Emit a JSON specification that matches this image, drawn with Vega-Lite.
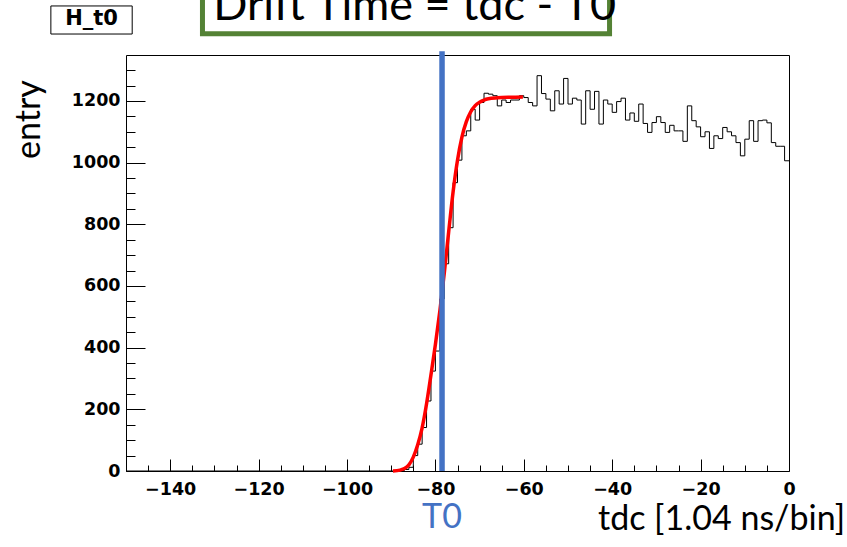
{
  "$schema": "https://vega.github.io/schema/vega-lite/v6.json",
  "width": 663,
  "height": 416,
  "autosize": {"type": "none"},
  "padding": {"left": 126, "top": 55, "right": 58, "bottom": 76},
  "background": "white",
  "config": {
    "view": {"stroke": "#000000", "strokeWidth": 1},
    "axis": {"grid": false, "domain": false, "tickColor": "#000000", "tickWidth": 1, "labelColor": "#000000", "titleColor": "#000000"}
  },
  "datasets": {
    "hist": [
      {"lo": -150, "n": 0}, {"lo": -88, "n": 2}, {"lo": -87, "n": 5}, {"lo": -86, "n": 12},
      {"lo": -85, "n": 50}, {"lo": -84, "n": 87}, {"lo": -83, "n": 141}, {"lo": -82, "n": 227},
      {"lo": -81, "n": 324}, {"lo": -80, "n": 389}, {"lo": -79, "n": 558}, {"lo": -78, "n": 672},
      {"lo": -77, "n": 789}, {"lo": -76, "n": 935}, {"lo": -75, "n": 1008}, {"lo": -74, "n": 1087},
      {"lo": -73, "n": 1103}, {"lo": -72, "n": 1173}, {"lo": -71, "n": 1138}, {"lo": -70, "n": 1195},
      {"lo": -69, "n": 1225}, {"lo": -68, "n": 1222}, {"lo": -67, "n": 1217}, {"lo": -66, "n": 1184},
      {"lo": -65, "n": 1203}, {"lo": -64, "n": 1195}, {"lo": -63, "n": 1203}, {"lo": -62, "n": 1203},
      {"lo": -61, "n": 1217}, {"lo": -60, "n": 1211}, {"lo": -59, "n": 1195}, {"lo": -58, "n": 1184},
      {"lo": -57, "n": 1282}, {"lo": -56, "n": 1224}, {"lo": -55, "n": 1206}, {"lo": -54, "n": 1168},
      {"lo": -53, "n": 1233}, {"lo": -52, "n": 1190}, {"lo": -51, "n": 1273}, {"lo": -50, "n": 1190},
      {"lo": -49, "n": 1209}, {"lo": -48, "n": 1203}, {"lo": -47, "n": 1125}, {"lo": -46, "n": 1233},
      {"lo": -45, "n": 1173}, {"lo": -44, "n": 1231}, {"lo": -43, "n": 1125}, {"lo": -42, "n": 1203},
      {"lo": -41, "n": 1190}, {"lo": -40, "n": 1163}, {"lo": -39, "n": 1198}, {"lo": -38, "n": 1209},
      {"lo": -37, "n": 1138}, {"lo": -36, "n": 1161}, {"lo": -35, "n": 1134}, {"lo": -34, "n": 1190},
      {"lo": -33, "n": 1127}, {"lo": -32, "n": 1098}, {"lo": -31, "n": 1130}, {"lo": -30, "n": 1149},
      {"lo": -29, "n": 1130}, {"lo": -28, "n": 1098}, {"lo": -27, "n": 1121}, {"lo": -26, "n": 1103},
      {"lo": -25, "n": 1103}, {"lo": -24, "n": 1069}, {"lo": -23, "n": 1184}, {"lo": -22, "n": 1136},
      {"lo": -21, "n": 1116}, {"lo": -20, "n": 1084}, {"lo": -19, "n": 1100}, {"lo": -18, "n": 1046},
      {"lo": -17, "n": 1087}, {"lo": -16, "n": 1078}, {"lo": -15, "n": 1114}, {"lo": -14, "n": 1100},
      {"lo": -13, "n": 1087}, {"lo": -12, "n": 1065}, {"lo": -11, "n": 1022}, {"lo": -10, "n": 1076},
      {"lo": -9, "n": 1136}, {"lo": -8, "n": 1069}, {"lo": -7, "n": 1136}, {"lo": -6, "n": 1138},
      {"lo": -5, "n": 1129}, {"lo": -4, "n": 1065}, {"lo": -3, "n": 1053}, {"lo": -2, "n": 1053},
      {"lo": -1, "n": 1006}, {"lo": 0, "n": 1006}
    ],
    "fit": [
      {"x": -89.6, "y": 0}, {"x": -88, "y": 3}, {"x": -87, "y": 8}, {"x": -86, "y": 20},
      {"x": -85, "y": 45}, {"x": -84, "y": 85}, {"x": -83, "y": 140}, {"x": -82, "y": 218},
      {"x": -81, "y": 312}, {"x": -80, "y": 410}, {"x": -79, "y": 518}, {"x": -78, "y": 640},
      {"x": -77, "y": 775}, {"x": -76, "y": 905}, {"x": -75, "y": 1008}, {"x": -74, "y": 1083},
      {"x": -73, "y": 1133}, {"x": -72, "y": 1165}, {"x": -71, "y": 1185}, {"x": -70, "y": 1196},
      {"x": -69, "y": 1203}, {"x": -68, "y": 1207}, {"x": -66, "y": 1210}, {"x": -63, "y": 1212},
      {"x": -60.2, "y": 1213}
    ]
  },
  "layer": [
    {
      "data": {"name": "hist"},
      "mark": {"type": "line", "interpolate": "step-after", "stroke": "#000000", "strokeWidth": 1},
      "encoding": {
        "x": {
          "field": "lo", "type": "quantitative",
          "scale": {"domain": [-150, 0], "nice": false, "zero": false},
          "axis": {
            "orient": "bottom", "values": [-140, -120, -100, -80, -60, -40, -20, 0],
            "tickSize": -12, "labelPadding": 21, "labelFlush": false, "format": "d",
            "labelFont": "DejaVu Sans", "labelFontWeight": "bold", "labelFontSize": 17.5,
            "title": "tdc [1.04 ns/bin]", "titleFont": "Lato", "titleFontSize": 34, "titleFontWeight": "normal",
            "titleX": 595, "titleY": 48, "titleAlign": "center", "titleBaseline": "middle", "titleAnchor": null
          }
        },
        "y": {
          "field": "n", "type": "quantitative",
          "scale": {"domain": [0, 1349], "nice": false, "zero": false},
          "axis": {
            "orient": "left", "values": [0, 200, 400, 600, 800, 1000, 1200],
            "tickSize": -19, "labelPadding": 25, "labelFlush": false, "format": "d",
            "labelFont": "DejaVu Sans", "labelFontWeight": "bold", "labelFontSize": 17.5,
            "title": "entry", "titleFont": "Lato", "titleFontSize": 34, "titleFontWeight": "normal",
            "titleAngle": -90, "titleX": -97, "titleY": 64, "titleAlign": "center", "titleBaseline": "middle", "titleAnchor": null
          }
        }
      }
    },
    {
      "data": {"name": "fit"},
      "mark": {"type": "line", "interpolate": "monotone", "stroke": "#ff0000", "strokeWidth": 3.5},
      "encoding": {
        "x": {
          "field": "x", "type": "quantitative",
          "axis": {
            "orient": "bottom", "labels": false, "title": null, "tickSize": -6,
            "values": [-145, -135, -130, -125, -115, -110, -105, -95, -90, -85, -75, -70, -65, -55, -50, -45, -35, -30, -25, -15, -10, -5]
          }
        },
        "y": {
          "field": "y", "type": "quantitative",
          "axis": {
            "orient": "left", "labels": false, "title": null, "tickSize": -9,
            "values": [50, 100, 150, 250, 300, 350, 450, 500, 550, 650, 700, 750, 850, 900, 950, 1050, 1100, 1150, 1250, 1300]
          }
        }
      }
    },
    {
      "data": {"values": [{"name": "T0", "t0": -78.5}]},
      "mark": {"type": "rule", "stroke": "#4472C4", "strokeWidth": 5.5},
      "encoding": {
        "x": {"field": "t0", "type": "quantitative", "axis": null},
        "y": {"datum": 0, "axis": null},
        "y2": {"datum": 1361}
      }
    },
    {
      "data": {"values": [{"name": "T0", "t0": -78.5}]},
      "mark": {"type": "text", "font": "Lato", "fontSize": 34, "color": "#4472C4", "align": "center", "baseline": "middle"},
      "encoding": {
        "x": {"field": "t0", "type": "quantitative", "axis": null},
        "y": {"datum": -154, "axis": null},
        "text": {"field": "name"}
      }
    },
    {
      "data": {"values": [{"label": "Drift Time = tdc - T0"}]},
      "mark": {"type": "rect", "filled": false, "stroke": "#548235", "strokeWidth": 5},
      "encoding": {
        "x": {"datum": -132.7, "axis": null},
        "x2": {"datum": -40.6},
        "y": {"datum": 1418, "axis": null},
        "y2": {"datum": 1600}
      }
    },
    {
      "data": {"values": [{"label": "Drift Time = tdc - T0"}]},
      "mark": {"type": "text", "font": "Lato", "fontSize": 45, "color": "#000000", "align": "center", "baseline": "alphabetic"},
      "encoding": {
        "x": {"datum": -84.7, "axis": null},
        "y": {"datum": 1464, "axis": null},
        "text": {"field": "label"}
      }
    },
    {
      "data": {"values": [{"label": "H_t0"}]},
      "mark": {"type": "rect", "filled": false, "stroke": "#000000", "strokeWidth": 1},
      "encoding": {
        "x": {"datum": -167, "axis": null},
        "x2": {"datum": -148.6},
        "y": {"datum": 1417, "axis": null},
        "y2": {"datum": 1508}
      }
    },
    {
      "data": {"values": [{"label": "H_t0"}]},
      "mark": {"type": "text", "font": "DejaVu Sans", "fontWeight": "bold", "fontSize": 21, "color": "#000000", "align": "center", "baseline": "middle"},
      "encoding": {
        "x": {"datum": -157.8, "axis": null},
        "y": {"datum": 1465, "axis": null},
        "text": {"field": "label"}
      }
    }
  ],
  "resolve": {"axis": {"x": "independent", "y": "independent"}}
}
